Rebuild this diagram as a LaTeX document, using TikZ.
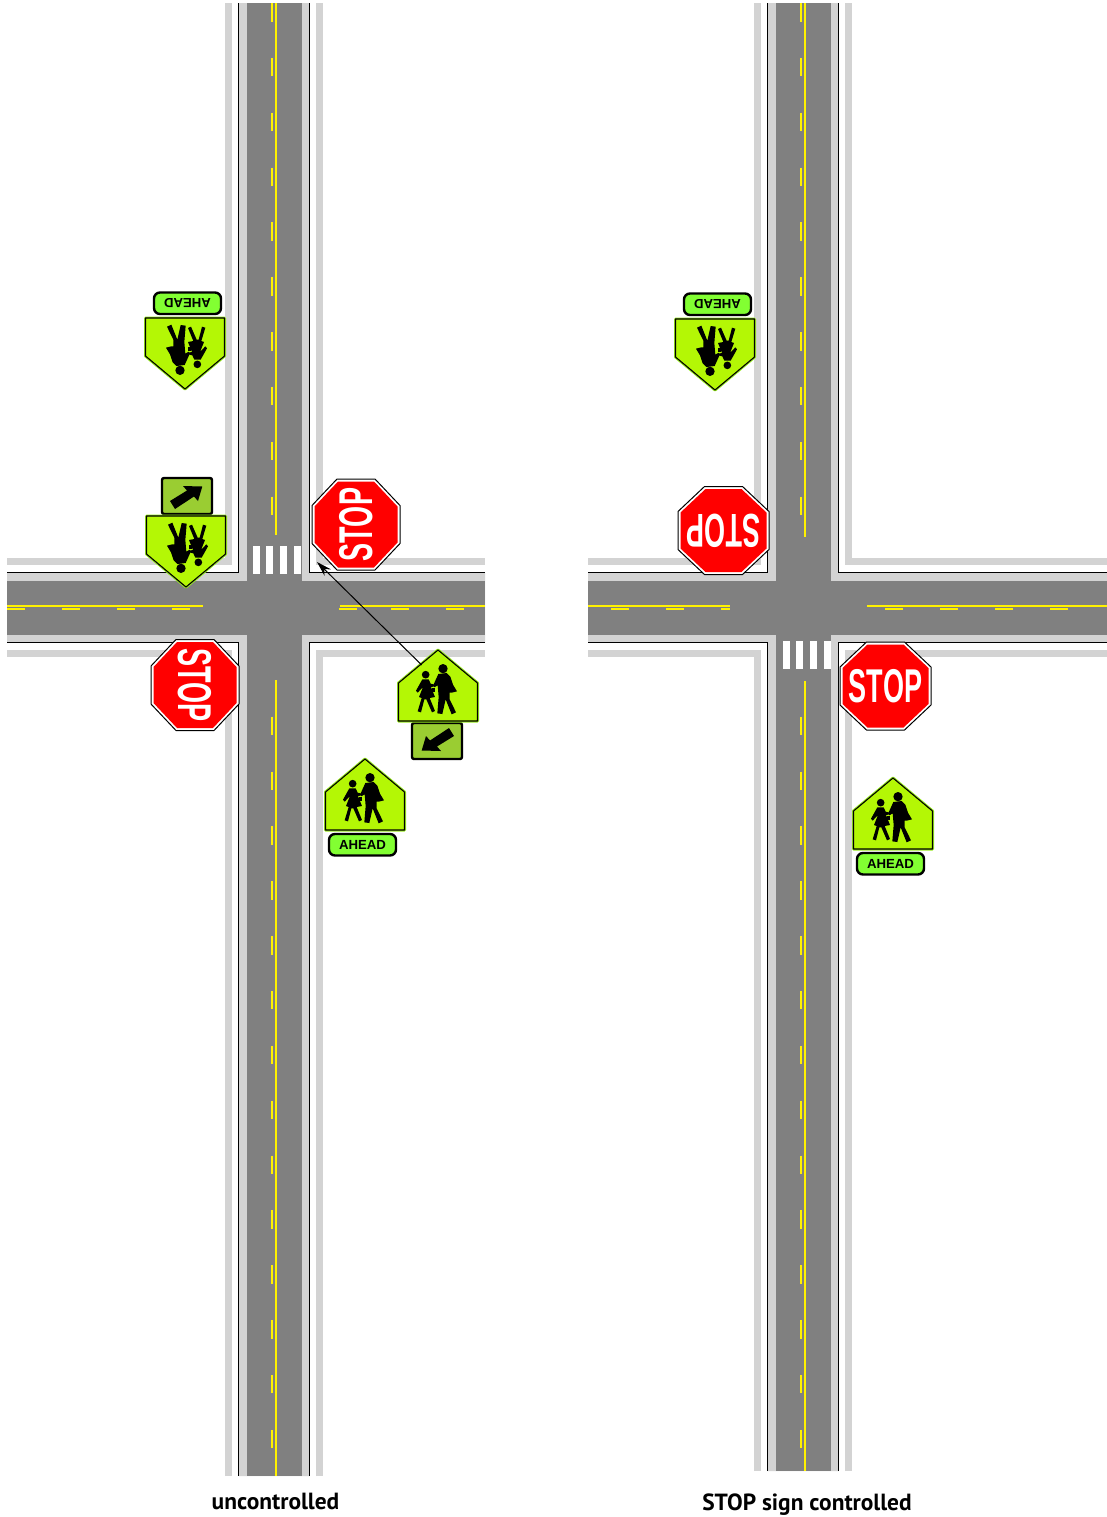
\documentclass[tikz,border=0pt]{standalone}
\usepackage{fontspec}
\usepackage{xcolor}
\usetikzlibrary{arrows.meta}
\setmainfont{Liberation Sans}
\newfontfamily\captionfont{PT Sans}
\definecolor{roadgray}{RGB}{128, 128, 128}
\definecolor{shouldergray}{RGB}{211, 211, 211}
\definecolor{signyellow}{RGB}{180, 247, 5}
\definecolor{signlime}{RGB}{150, 232, 30}
\definecolor{aheadgreen}{RGB}{130, 255, 50}
\definecolor{plateolive}{RGB}{154, 205, 50}
\definecolor{stopred}{RGB}{255, 0, 0}
\tikzset{
    strip/.style={shouldergray, line width=3.5pt},
    edgeline/.style={black, line width=0.7pt},
    centerline/.style={yellow, line width=1.1pt},
    dashline/.style={yellow, line width=1.1pt},
    signface/.style={fill=signyellow, draw=black, line width=0.55pt, line join=round},
    signglow/.style={draw=signlime, line width=1.5pt, line join=round},
    walkarrow/.style={-{Stealth[length=7.5pt, width=4.5pt]}, black, line width=0.5pt},
    captiontext/.style={font=\captionfont\bfseries\fontsize{11.7}{14}\selectfont, inner sep=0pt}
}
\newcommand{\crossroad}[4]{
    \fill[shouldergray] (#1-35,3) -- (#1+35,3) -- (#1+35,572.7) -- (#2,572.7) -- (#2,642.5) -- (#1+35,642.5) -- (#1+35,#4) -- (#1-35,#4) -- (#1-35,642.5) -- (#3,642.5) -- (#3,572.7) -- (#1-35,572.7) -- cycle;
    \fill[roadgray] (#1-27.5,3) rectangle (#1+27.5,#4);
    \fill[roadgray] (#3,580.7) rectangle (#2,635);
    \draw[edgeline] (#1-35.5,3) -- (#1-35.5,572.7) -- (#3,572.7);
    \draw[edgeline] (#1+35.5,3) -- (#1+35.5,572.7) -- (#2,572.7);
    \draw[edgeline] (#1-35.5,#4) -- (#1-35.5,642.5) -- (#3,642.5);
    \draw[edgeline] (#1+35.5,#4) -- (#1+35.5,642.5) -- (#2,642.5);
    \draw[strip] (#1-45.7,3) -- (#1-45.7,561.5) -- (#3,561.5);
    \draw[strip] (#1+45.7,3) -- (#1+45.7,561.5) -- (#2,561.5);
    \draw[strip] (#1-45.7,#4) -- (#1-45.7,653.5) -- (#3,653.5);
    \draw[strip] (#1+45.7,#4) -- (#1+45.7,653.5) -- (#2,653.5);
}
\newcommand{\schoolkids}{
    \begin{scope}[scale=1/3, shift={(-159,-237)}]
        \fill (174,80) circle (14);
        \fill (160,96) -- (185,93) -- (196,104) -- (204,128) -- (216,148) -- (200,152) -- (194,152) -- (194,172) -- (213,211) -- (200,217) -- (182,172) -- (172,216) -- (157,214) -- (161,165) -- (158,130) -- (148,136) -- (146,127) -- cycle;
        \fill (122,98) circle (11.5);
        \fill (112,112) -- (131,112) -- (137,125) -- (150,128) -- (150,133) -- (138,135) -- (150,165) -- (134,168) -- (150,207) -- (141,211) -- (124,172) -- (118,172) -- (108,211) -- (98,208) -- (110,168) -- (102,165) -- (114,135) -- (98,152) -- (93,146) -- cycle;
        \fill (140,138) rectangle (150,150);
    \end{scope}
}
\newcommand{\schoolsign}[3]{
    \begin{scope}[shift={(#1,#2)}, rotate=#3]
        \path[signglow] (-39.5,0) -- (-39.5,-38) -- (0,-71) -- (39.5,-38) -- (39.5,0) -- cycle;
        \path[signface] (-39.5,0) -- (-39.5,-38) -- (0,-71) -- (39.5,-38) -- (39.5,0) -- cycle;
        \schoolkids
    \end{scope}
}
\newcommand{\aheadplate}[4]{
    \begin{scope}[shift={(#2,#3)}, rotate=#4]
        \draw[fill=aheadgreen, line width=1.2pt, rounded corners=3pt] (-36,4) rectangle (31,25.5);
        \node[font=\bfseries\fontsize{6.6}{7}\selectfont, transform shape, inner sep=0pt] (#1) at (-2.5,15) {AHEAD};
    \end{scope}
}
\newcommand{\arrowplate}[3]{
    \begin{scope}[shift={(#1,#2)}, rotate=#3]
        \draw[fill=plateolive, line width=1.2pt, rounded corners=1pt] (-26,2) rectangle (24,38);
        \fill (-16.3,29.5) -- (-12,15) -- (-8,19.5) -- (11,7) -- (16,15) -- (-1,25.5) -- (3,30) -- cycle;
    \end{scope}
}
\newcommand{\stopsign}[4]{
    \begin{scope}[shift={(#2,#3)}, rotate=#4]
        \draw[fill=white, line width=0.5pt] (-45.5,-19) -- (-19,-44) -- (19,-44) -- (45.5,-19) -- (45.5,19) -- (19,44) -- (-19,44) -- (-45.5,19) -- cycle;
        \fill[stopred] (-43,-18) -- (-18,-41.5) -- (18,-41.5) -- (43,-18) -- (43,18) -- (18,41.5) -- (-18,41.5) -- (-43,18) -- cycle;
        \node[white, transform shape, inner sep=0pt] (#1) at (0,0) {\scalebox{0.57}[1]{\bfseries\fontsize{23.7}{24}\selectfont STOP}};
    \end{scope}
}

\begin{document}
\begin{tikzpicture}[x=0.5pt, y=-0.5pt]
    \useasboundingbox (0,0) rectangle (1107,1517);
    \crossroad{274.2}{485}{7}{1476}
    \crossroad{803.2}{1107}{588}{1471}
    \foreach \x in {252.7,266,280,294}
    {
        \fill[white] (\x,546) rectangle (\x+7.3,574);
    }
    \foreach \x in {782.7,796,810,824}
    {
        \fill[white] (\x,641) rectangle (\x+7.3,669);
    }
    \draw[centerline] (275.7,3) -- (275.7,535);
    \draw[centerline] (275.7,680) -- (275.7,1476);
    \draw[centerline] (7,605.7) -- (203,605.7);
    \draw[centerline] (340,605.7) -- (485,605.7);
    \draw[centerline] (805,3) -- (805,537);
    \draw[centerline] (805,681) -- (805,1471);
    \draw[centerline] (588,605.7) -- (730,605.7);
    \draw[centerline] (867,605.7) -- (1107,605.7);
    \foreach \n in {0,...,9}
    {
        \draw[dashline] (272,3+54.85*\n) -- ++(0,18.5);
        \draw[dashline] (801.3,3+54.85*\n) -- ++(0,18.5);
    }
    \foreach \n in {0,...,13}
    {
        \draw[dashline] (272,716.7+54.85*\n) -- ++(0,18.5);
        \draw[dashline] (801.3,716.7+54.85*\n) -- ++(0,18.5);
    }
    \foreach \x in {7,62,117,172,339,391,446}
    {
        \draw[dashline] (\x,609.3) -- ++(18,0);
    }
    \foreach \x in {611,666,885,940,995,1050}
    {
        \draw[dashline] (\x,609.3) -- ++(18,0);
    }
    \draw[dashline] (721,609.3) -- (730,609.3);
    \arrowplate{186}{516}{180}
    \schoolsign{186}{516}{180}
    \aheadplate{aheadA}{185}{318}{180}
    \schoolsign{185}{318}{180}
    \aheadplate{aheadB}{715}{319}{180}
    \schoolsign{715}{319}{180}
    \arrowplate{438}{721}{0}
    \schoolsign{438}{721}{0}
    \aheadplate{aheadC}{365}{830}{0}
    \schoolsign{365}{830}{0}
    \aheadplate{aheadD}{893}{849}{0}
    \schoolsign{893}{849}{0}
    \stopsign{stopA}{356}{524.5}{90}
    \stopsign{stopB}{195}{685}{-90}
    \stopsign{stopC}{723.5}{530.5}{180}
    \stopsign{stopD}{885.5}{686}{0}
    \coordinate (schoolEdge) at (421.7,665);
    \coordinate (crossingEnd) at (317,562);
    \draw[walkarrow] (schoolEdge) -- (crossingEnd);
    \node[captiontext] (leftCaption) at (275.5,1501) {uncontrolled};
    \node[captiontext] (rightCaption) at (807,1505) {STOP sign controlled};
\end{tikzpicture}
\end{document}
